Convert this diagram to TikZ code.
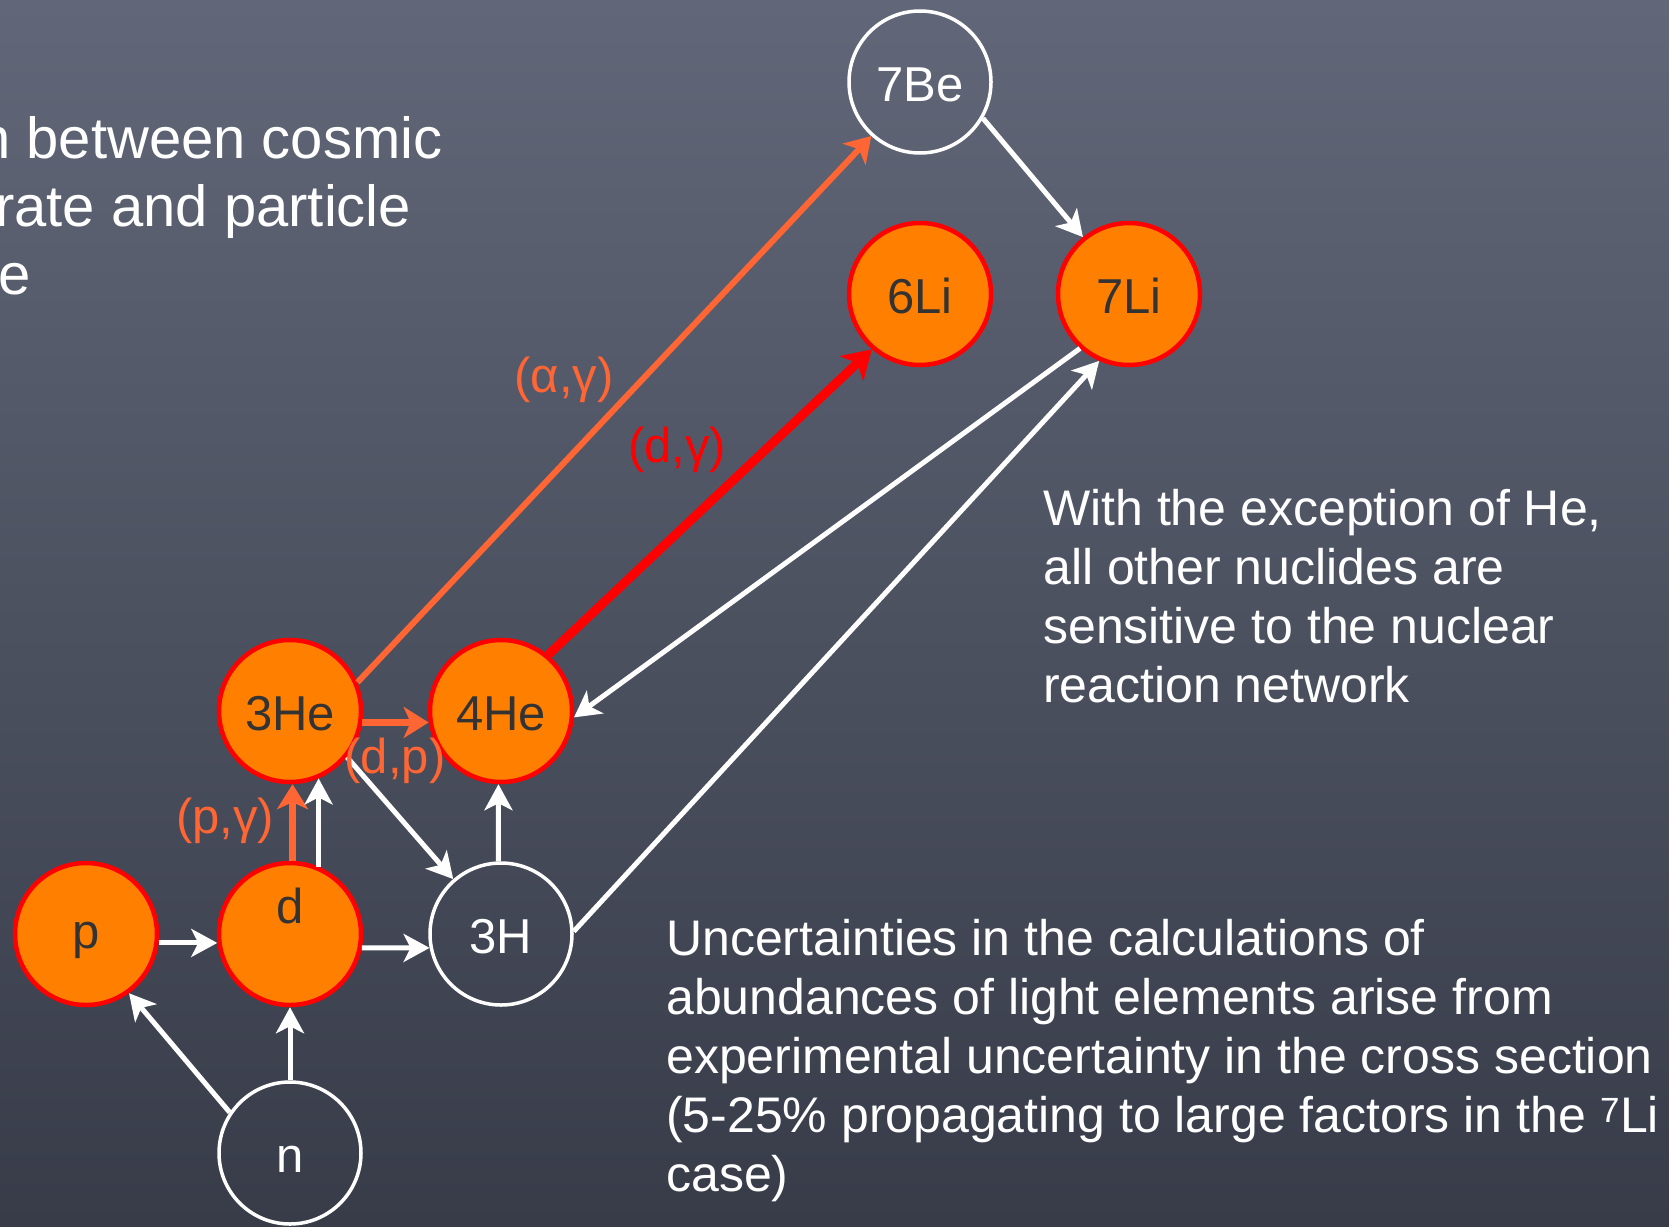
\documentclass[tikz,border=0pt]{standalone}
\usepackage{fontspec}
\setmainfont{Liberation Sans}
\usetikzlibrary{arrows.meta}
\definecolor{bgtop}{RGB}{97,103,120}
\definecolor{bgmid}{RGB}{78,83,98}
\definecolor{bgbot}{RGB}{56,60,73}
\definecolor{nucfill}{RGB}{255,128,0}
\definecolor{nucline}{RGB}{255,0,0}
\definecolor{rxorange}{RGB}{255,102,51}
\definecolor{rxred}{RGB}{255,0,0}
\definecolor{labeldark}{RGB}{51,51,51}
\begin{document}
\begin{tikzpicture}[x=1pt,y=-1pt,
  nuc/.style={circle, minimum size=142pt, inner sep=0pt, text height=38pt, text depth=0pt,
    font=\fontsize{49}{49}\selectfont},
  fillnuc/.style={nuc, fill=nucfill, draw=nucline, line width=4.5pt, text=labeldark},
  opennuc/.style={nuc, draw=white, line width=3.5pt, text=white},
  warr/.style={draw=white, line width=5pt, -{Stealth[length=26pt,width=28pt,inset=7pt]}},
  oarr/.style={draw=rxorange, line width=7pt, -{Stealth[length=25pt,width=31pt,inset=7pt]}},
  rarr/.style={draw=rxred, line width=9pt, -{Stealth[length=28pt,width=34pt,inset=8pt]}},
  rxlabel/.style={anchor=base, inner sep=0pt, font=\fontsize{49}{49}\selectfont},
  bodytext/.style={anchor=base west, inner sep=0pt, text=white, font=\fontsize{50}{50}\selectfont},
  toptext/.style={anchor=base west, inner sep=0pt, text=white, font=\fontsize{58}{58}\selectfont},
]
\useasboundingbox (0,0) rectangle (1669,1226);
\shade[top color=bgtop, middle color=bgmid, bottom color=bgbot] (0,0) rectangle (1669,1226);

% partly cut text at the left
\begin{scope}
\clip (0,0) rectangle (1669,1226);
\node[toptext] (t1) at (-22,158) {n between cosmic};
\node[toptext] (t2) at (-5,226) {rate and particle};
\node[toptext] (t3) at (-2,294) {e};
\end{scope}

% nuclides
\node[fillnuc] (p)   at (86,934)   {\raisebox{5pt}{p}};
\node[fillnuc] (d)   at (290,934)  {\raisebox{30pt}{d}};
\node[opennuc] (n)   at (290,1153) {n};
\node[opennuc] (h3)  at (501,934)  {3H};
\node[fillnuc] (he3) at (290,711)  {3He};
\node[fillnuc] (he4) at (501,711)  {4He};
\node[fillnuc] (li6) at (920,294)  {6Li};
\node[fillnuc] (li7) at (1129,294) {7Li};
\node[opennuc] (be7) at (920,82)   {7Be};

% reactions
\draw[warr] (p.-7) -- (d.-173);
\draw[warr] (n.146) -- (p.-54);
\draw[warr] (n.90) -- (d.-90);
\draw[warr] (d.-11) -- (h3.-169);
\draw[oarr] (d.88) -- (he3.-88);
\draw[warr] (d.67) -- (he3.-67);
\draw[oarr] (he3.-9) -- (he4.-171);
\draw[warr] (he3.-39) -- (h3.131);
\draw[warr] (h3.92) -- (he4.-92);
\draw[warr] (h3.2) -- (li7.-114);
\draw[warr] (li7.-132) -- (he4.-5);
\draw[rarr] (he4.50) -- (li6.-131);
\draw[oarr, line width=6pt] (he3.23) -- (be7.-132);
\draw[warr] (be7.-30) -- (li7.129);

% reaction labels
\node[rxlabel, text=rxorange] (lag) at (564,392) {(α,γ)};
\node[rxlabel, text=rxred]    (ldg) at (677,462) {(d,γ)};
\node[rxlabel, text=rxorange] (ldp) at (395,773) {(d,p)};
\node[rxlabel, text=rxorange] (lpg) at (225,833) {(p,γ)};

% explanatory text
\node[bodytext] (r1) at (1043,525) {With the exception of He,};
\node[bodytext] (r2) at (1043,584) {all other nuclides are};
\node[bodytext] (r3) at (1043,643) {sensitive to the nuclear};
\node[bodytext] (r4) at (1043,702) {reaction network};

\node[bodytext] (b1) at (666,955)  {Uncertainties in the calculations of};
\node[bodytext] (b2) at (666,1014) {abundances of light elements arise from};
\node[bodytext] (b3) at (666,1073) {experimental uncertainty in the cross section};
\node[bodytext] (b4) at (666,1132) {(5-25\% propagating to large factors in the \textsuperscript{7}Li};
\node[bodytext] (b5) at (666,1191) {case)};
\end{tikzpicture}
\end{document}
